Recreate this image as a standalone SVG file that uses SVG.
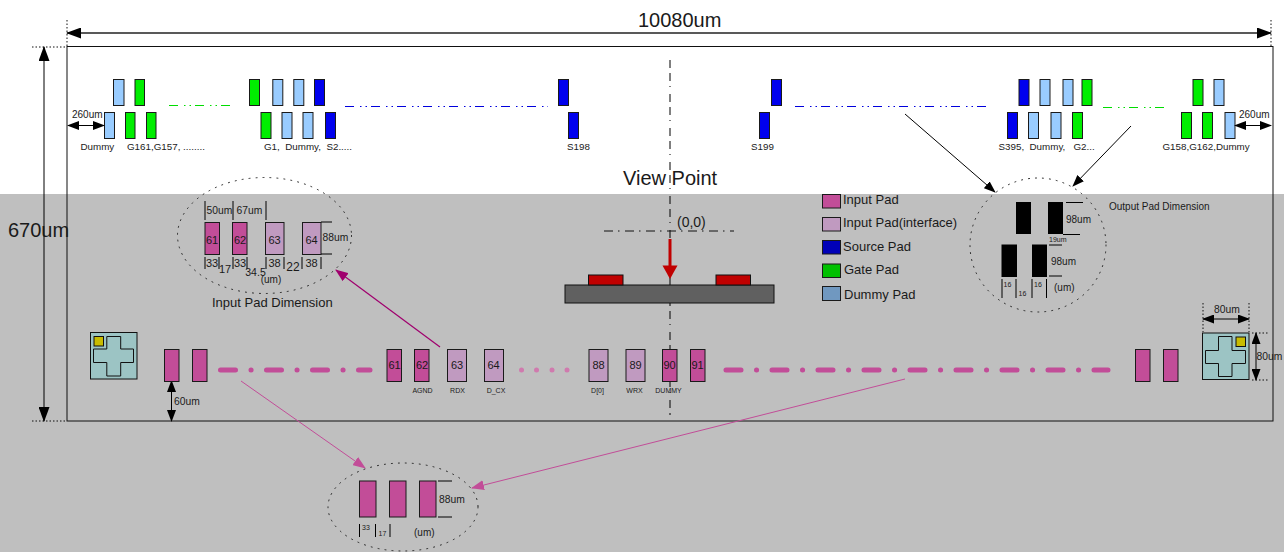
<svg xmlns="http://www.w3.org/2000/svg" width="1284" height="552" viewBox="0 0 1284 552">
<style>
text{font-family:"Liberation Sans",Arial,sans-serif;fill:#1a1a1a;font-size:9.800px}
.pad{stroke:#1a1a1a;stroke-width:1}
.lb{fill:#99ccff}.gr{fill:#00ee00}.bl{fill:#0000ee}
.ip{fill:#c24d98}.if{fill:#c09ac0}.bk{fill:#000}
.ln{stroke:#000;stroke-width:1;fill:none}
.dot{stroke:#222;stroke-width:1;fill:none;stroke-dasharray:1 6;stroke-linecap:round}
.tick{stroke:#111;stroke-width:1;fill:none;stroke-dasharray:1.500 2}
.n{font-size:10px;text-anchor:middle}
.s{font-size:7px;text-anchor:middle}
.m{font-size:10.300px}
.lg{font-size:13px}
.mk{fill:#9cc4c4;stroke:#111;stroke-width:1}
.ye{fill:#c8bc00;stroke:#111;stroke-width:1}
.dd{fill:none;stroke-width:1.200;stroke-dasharray:9 6 1.500 4 1.500 4}
.pk{stroke:#c24d98;stroke-width:5;stroke-linecap:round;fill:none;stroke-dasharray:15 15.500 0.100 15.400}
</style>
<defs>
<marker id="a" markerWidth="15" markerHeight="11" refX="14" refY="5.500" orient="auto-start-reverse" markerUnits="userSpaceOnUse"><path d="M0 0L15 5.500L0 11Z" fill="#000"/></marker>
<marker id="b" markerWidth="12" markerHeight="9" refX="11" refY="4.500" orient="auto-start-reverse" markerUnits="userSpaceOnUse"><path d="M0 0L12 4.500L0 9Z" fill="#000"/></marker>
<marker id="ap" markerWidth="13" markerHeight="10" refX="12" refY="5" orient="auto" markerUnits="userSpaceOnUse"><path d="M0 0L13 5L0 10Z" fill="#a0006e"/></marker>
<marker id="app" markerWidth="13" markerHeight="10" refX="12" refY="5" orient="auto" markerUnits="userSpaceOnUse"><path d="M0 0L13 5L0 10Z" fill="#c24d98"/></marker>
</defs>
<rect width="1284" height="552" fill="#fff"/>
<rect y="194" width="1284" height="358" fill="#bfbfbf"/>
<g id="frame"><rect x="67" y="46.500" width="1206" height="374.500" fill="none" stroke="#111" stroke-width="1"/></g>

<g id="top-pads-left" class="pad">
<rect class="lb" x="113.500" y="79.500" width="10.500" height="26"/><rect class="gr" x="135" y="79.500" width="9.500" height="26"/>
<rect class="lb" x="104.500" y="112.500" width="10" height="26"/><rect class="gr" x="125.500" y="112.500" width="9.500" height="26"/><rect class="gr" x="146.500" y="112.500" width="9.500" height="26"/>
<rect class="gr" x="249.500" y="79.500" width="10" height="26"/><rect class="lb" x="272.800" y="79.500" width="10" height="26"/><rect class="lb" x="293.800" y="79.500" width="10" height="26"/><rect class="bl" x="314.500" y="79.500" width="10" height="26"/>
<rect class="gr" x="261" y="112.500" width="10" height="26"/><rect class="lb" x="282" y="112.500" width="10" height="26"/><rect class="lb" x="303" y="112.500" width="10" height="26"/><rect class="bl" x="325.500" y="112.500" width="10" height="26"/>
<rect class="bl" x="558.500" y="79.500" width="10" height="26"/><rect class="bl" x="568.500" y="112.500" width="10" height="26"/>
</g>
<g id="top-pads-right" class="pad">
<rect class="bl" x="771.500" y="79.500" width="10" height="26"/><rect class="bl" x="759.500" y="112.500" width="10" height="26"/>
<rect class="bl" x="1019" y="79.500" width="10" height="26"/><rect class="lb" x="1040" y="79.500" width="10" height="26"/><rect class="lb" x="1063" y="79.500" width="10" height="26"/><rect class="gr" x="1082" y="79.500" width="10" height="26"/>
<rect class="bl" x="1007.500" y="112.500" width="10" height="26"/><rect class="lb" x="1028.500" y="112.500" width="10" height="26"/><rect class="lb" x="1051" y="112.500" width="10" height="26"/><rect class="gr" x="1072.500" y="112.500" width="10" height="26"/>
<rect class="gr" x="1193" y="79.500" width="10" height="26"/><rect class="lb" x="1214" y="79.500" width="10" height="26"/>
<rect class="gr" x="1181.500" y="112.500" width="10" height="26"/><rect class="gr" x="1202.500" y="112.500" width="10" height="26"/><rect class="lb" x="1225" y="112.500" width="10" height="26"/>
</g>
<g id="top-labels">
<text x="80.500" y="150">Dummy</text><text x="127" y="150">G161,G157, ........</text><text x="264" y="150" xml:space="preserve">G1,  Dummy,  S2.....</text><text x="567" y="150">S198</text><text x="751" y="150">S199</text>
<text x="998.500" y="150" xml:space="preserve">S395,  Dummy,   G2...</text><text x="1162.500" y="150">G158,G162,Dummy</text>
<text x="72" y="118" style="font-size:10px">260um</text><text x="1239" y="118" style="font-size:10px">260um</text>
</g>

<g id="connectors">
<path class="dd" stroke="#00dd00" d="M169 105.500H235"/>
<path class="dd" stroke="#0000dd" d="M345 106.500H548"/>
<path class="dd" stroke="#0000dd" d="M795 106.500H990"/>
<path class="dd" stroke="#00dd00" d="M1103 107.500H1170"/>
<path d="M670 60V415" stroke="#000" fill="none" stroke-dasharray="8 5 8 5 1 7"/>
<path d="M604 231H734" stroke="#111" fill="none" stroke-dasharray="9 5 1.500 5.500"/>
<path class="pk" d="M220.500 370H370"/>
<path class="pk" d="M726 370H1108"/>
<g fill="#d07aae"><circle cx="521.500" cy="370" r="2.500"/><circle cx="536.500" cy="370" r="2.500"/><circle cx="552" cy="370" r="2.500"/><circle cx="567" cy="370" r="2.500"/></g>
<path d="M67 33H1271" stroke="#222" stroke-width="1.500" fill="none" marker-start="url(#a)" marker-end="url(#a)"/>
<path class="tick" d="M67 20V47M1271 20V47M32 47H67M32 421H67"/>
<path class="ln" d="M44 47V421" marker-start="url(#a)" marker-end="url(#a)"/>
<path class="ln" d="M68 125.500H104" stroke-width="1.500" marker-start="url(#b)" marker-end="url(#b)"/>
<path class="ln" d="M1235 125.500H1271" stroke-width="1.500" marker-start="url(#b)" marker-end="url(#b)"/>
<path class="ln" d="M905 114L995 192" marker-end="url(#b)"/>
<path class="ln" d="M1131 126L1073 186" marker-end="url(#b)"/>
<path d="M440 347L336 270" stroke="#a0006e" fill="none" stroke-width="1.200" marker-end="url(#ap)"/>
<path d="M241 381L365 468" stroke="#c24d98" fill="none" marker-end="url(#app)"/>
<path d="M905 379L472 488" stroke="#c24d98" fill="none" marker-end="url(#app)"/>
<path class="ln" d="M171.500 381V421" marker-start="url(#b)" marker-end="url(#b)"/>
<path class="ln" d="M1203 319H1249" marker-start="url(#b)" marker-end="url(#b)"/>
<path class="ln" d="M1256 333V380" marker-start="url(#b)" marker-end="url(#b)"/>
<path class="tick" d="M1203 303V332M1249 303V332M1252 333H1268M1252 380H1268"/>
</g>

<g id="bottom-pads" class="pad">
<rect class="ip" x="164.500" y="349.500" width="14.500" height="32"/><rect class="ip" x="192.500" y="349.500" width="14.500" height="32"/>
<rect class="ip" x="387" y="349.500" width="14.500" height="32"/><rect class="ip" x="414.500" y="349.500" width="14.500" height="32"/>
<rect class="if" x="447.500" y="349.500" width="19" height="32"/><rect class="if" x="484.500" y="349.500" width="19" height="32"/>
<rect class="if" x="589" y="349.500" width="19" height="32"/><rect class="if" x="626" y="349.500" width="19" height="32"/>
<rect class="ip" x="662.500" y="349.500" width="14.500" height="32"/><rect class="ip" x="690.500" y="349.500" width="14.500" height="32"/>
<rect class="ip" x="1135.500" y="349.500" width="14.500" height="32"/><rect class="ip" x="1163.500" y="349.500" width="14.500" height="32"/>
</g>
<g id="bottom-labels">
<text class="n" x="394.500" y="369" style="font-size:11px">61</text><text class="n" x="422" y="369" style="font-size:11px">62</text><text class="n" x="457" y="369" style="font-size:11px">63</text><text class="n" x="493.500" y="369" style="font-size:11px">64</text>
<text class="n" x="598.500" y="369" style="font-size:11px">88</text><text class="n" x="635.500" y="369" style="font-size:11px">89</text><text class="n" x="669.500" y="369" style="font-size:11px">90</text><text class="n" x="697.500" y="369" style="font-size:11px">91</text>
<text class="s" x="422.500" y="393">AGND</text><text class="s" x="457.500" y="393">RDX</text><text class="s" x="496" y="393">D_CX</text><text class="s" x="597.500" y="393">D[0]</text><text class="s" x="634.500" y="393">WRX</text><text class="s" x="668.500" y="393">DUMMY</text>
<text class="m" x="174" y="405">60um</text><text class="m" x="1214" y="313">80um</text><text class="m" x="1256.500" y="360">80um</text>
</g>

<g id="mark-left">
<rect class="mk" x="90.500" y="332.500" width="46.500" height="46.500"/>
<path class="mk" d="M106.800 336.500H120.700V349H133.500V362.500H120.700V376H106.800V362.500H93.500V349H106.800Z"/>
<rect class="ye" x="94" y="336.500" width="9.500" height="9.500"/>
</g>
<g id="mark-right">
<rect class="mk" x="1202.500" y="333" width="46.500" height="46.500"/>
<path class="mk" d="M1218.500 336.500H1232V350.500H1245.500V363.500H1232V376.500H1218.500V363.500H1205.500V350.500H1218.500Z"/>
<rect class="ye" x="1236" y="337" width="9.500" height="9.500"/>
</g>

<g id="input-dim">
<ellipse class="dot" cx="264.500" cy="235.500" rx="87" ry="58"/>
<g class="pad"><rect class="ip" x="205" y="222.500" width="14.500" height="32"/><rect class="ip" x="232.500" y="222.500" width="14.500" height="32"/><rect class="if" x="265.500" y="222.500" width="18.500" height="32"/><rect class="if" x="302.500" y="222.500" width="18.500" height="32"/></g>
<path class="ln" d="M205 201V220M233 201V220M266 201V220M321 222H332M321 254H332M205 257V269M219 257V269M233 257V269M247 257V269M266 257V269M284 257V269M302 257V269M321 257V269"/>
<text class="n" x="212" y="244" style="font-size:11px">61</text><text class="n" x="240" y="244" style="font-size:11px">62</text><text class="n" x="274.500" y="244" style="font-size:11px">63</text><text class="n" x="311.500" y="244" style="font-size:11px">64</text>
<text class="m" x="206.500" y="214">50um</text><text class="m" x="236.500" y="214">67um</text><text class="m" x="322.500" y="241">88um</text>
<text class="n" x="212" y="267" style="font-size:11px">33</text><text class="n" x="225" y="273" style="font-size:11px">17</text><text class="n" x="240" y="267" style="font-size:11px">33</text><text class="n" x="255.500" y="276" style="font-size:10.500px">34.5</text><text class="n" x="274.500" y="267" style="font-size:11px">38</text><text class="n" x="293" y="271" style="font-size:12px">22</text><text class="n" x="311.500" y="267" style="font-size:11px">38</text><text class="n" x="271" y="283" style="font-size:10px">(um)</text>
<text x="212" y="307" style="font-size:13px">Input Pad Dimension</text>
</g>

<g id="output-dim">
<ellipse class="dot" cx="1038" cy="245" rx="68" ry="67"/>
<rect class="bk" x="1016" y="202" width="15" height="32"/><rect class="bk" x="1048" y="202" width="15" height="32"/><rect class="bk" x="1001.500" y="244.500" width="15.500" height="32.500"/><rect class="bk" x="1032" y="244.500" width="15" height="32.500"/>
<path class="ln" d="M1066 202.500H1083M1063 234.500H1080M1049 245H1062M1049 276H1062M1002 279V298M1016 279V298M1032 279V298M1046.500 279V298"/>
<text x="1066" y="223" style="font-size:10px">98um</text><text x="1051" y="265" style="font-size:10px">98um</text><text x="1049" y="242" style="font-size:7px">19um</text>
<text class="s" x="1007.500" y="287">16</text><text class="s" x="1022.500" y="296">16</text><text class="s" x="1038" y="287">16</text><text x="1054" y="291" style="font-size:10px">(um)</text>
<text x="1109" y="210" style="font-size:10px">Output Pad Dimension</text>
</g>

<g id="zoom-dim">
<ellipse class="dot" cx="403" cy="507" rx="75" ry="44"/>
<g class="pad"><rect class="ip" x="359.500" y="481" width="16.500" height="36"/><rect class="ip" x="389.500" y="481" width="16.500" height="36"/><rect class="ip" x="419.500" y="481" width="16.500" height="36"/></g>
<path class="ln" d="M438 481H452M438 517H452M359.500 524V537M375.500 524V537M390 524V537"/>
<text class="m" x="439" y="503">88um</text><text class="s" x="366" y="530">33</text><text class="s" x="382.500" y="536">17</text><text x="414" y="536" style="font-size:10px">(um)</text>
</g>

<g id="view-point">
<rect x="565" y="285" width="209" height="18" fill="#606060" stroke="#111"/>
<rect x="588.500" y="275" width="34.500" height="10" fill="#c00000" stroke="#111"/><rect x="716" y="275" width="34.500" height="10" fill="#c00000" stroke="#111"/>
<path d="M670 239V270" stroke="#c00000" stroke-width="3" fill="none"/><path d="M662.500 265.500H677.500L670 279Z" fill="#c00000"/>
<text x="623" y="185" style="font-size:20px">View Point</text>
<text x="677" y="227" style="font-size:14px">(0,0)</text>
</g>

<g id="legend">
<rect class="pad ip" x="822.500" y="194.500" width="18" height="13.500"/><rect class="pad if" x="822.500" y="217.500" width="18" height="13.500"/><rect class="pad" fill="#0000b8" x="822.500" y="240.500" width="18" height="13.500"/><rect class="pad" fill="#00c000" x="822.500" y="264" width="18" height="13.500"/><rect class="pad" fill="#7098c0" x="822.500" y="286.500" width="18" height="14"/>
<text class="lg" x="843" y="204">Input Pad</text><text class="lg" x="843" y="227">Input Pad(interface)</text><text class="lg" x="843" y="251">Source Pad</text><text class="lg" x="844" y="274">Gate Pad</text><text class="lg" x="844" y="299">Dummy Pad</text>
</g>

<g id="dimensions">
<text x="638" y="27" style="font-size:20px">10080um</text>
<text x="8" y="237" style="font-size:20px">670um</text>
</g>
</svg>
